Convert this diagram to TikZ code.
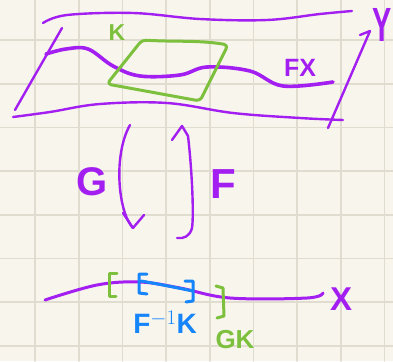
\documentclass[tikz,border=0pt]{standalone}
\usepackage{fontspec}
\setmainfont{Liberation Sans}
\definecolor{bg}{RGB}{248,246,236}
\definecolor{gridc}{RGB}{224,221,208}
\definecolor{purp}{RGB}{163,30,240}
\definecolor{grn}{RGB}{125,192,62}
\definecolor{blu}{RGB}{22,132,250}
\begin{document}
\begin{tikzpicture}[x=1pt,y=-1pt,line cap=round,line join=round,
  pen/.style={draw=purp,line width=2.4pt},
  thick pen/.style={draw=purp,line width=3.6pt},
  gpen/.style={draw=grn,line width=3pt},
  bpen/.style={draw=blu,line width=3pt},
  lbl/.style={inner sep=0pt,font=\fontsize{#1}{#1}\selectfont\bfseries},
  gridline/.style={draw=gridc,line width=1.6pt}]
\useasboundingbox (0,0) rectangle (393,361);
\fill[bg] (0,0) rectangle (393,361);
\foreach \i in {0,...,8} \draw[gridline] ({35+43.7*\i},0) -- ({35+43.7*\i},361);
\foreach \j in {0,...,7} \draw[gridline] (0,{40+43.7*\j}) -- (393,{40+43.7*\j});

% top sheet Y
\draw[pen] plot[smooth,tension=0.6] coordinates {(43,23) (67,15) (133,13) (200,19) (267,20) (320,14) (352,11)};
\draw[pen] plot[smooth,tension=0.6] coordinates {(13,117) (50,112) (100,104) (167,103) (233,113) (300,118) (343,120)};
\coordinate (ltop) at (62,28);
\coordinate (lbot) at (15,110);
\draw[pen] (ltop) -- (lbot);
\coordinate (rbot) at (328,128);
\coordinate (rtop) at (370,31);
\coordinate (rtick) at (360,35);
\draw[pen] (rbot) -- (rtop) -- (rtick);
\node[lbl=48,text=purp] (Y) at (382,25) {\scalebox{0.6}[1]{Y}};

% FX curve
\draw[thick pen] plot[smooth,tension=0.6] coordinates {(46,54) (66,49) (88,49) (113,66) (140,76) (180,75) (207,67) (250,71) (283,86) (333,82)};
\node[lbl=25,text=purp] (FX) at (300,68) {FX};

% K
\draw[gpen,rounded corners=4pt] (142,40) .. controls (175,42) and (200,40) .. (228,45) -- (200,101) -- (107,84) -- cycle;
\node[lbl=23,text=grn] (K) at (117,33) {K};

% G arrow
\coordinate (gtop) at (130,125);
\coordinate (gbot) at (133,228);
\coordinate (gl) at (123,213);
\coordinate (gr) at (144,215);
\draw[pen] (gtop) .. controls (113,155) and (118,212) .. (gbot);
\draw[pen] (gl) -- (gbot);
\draw[pen] (gr) -- (gbot);
\node[lbl=40,text=purp] (G) at (92,182) {G};

% F arrow
\coordinate (ftop) at (182,126);
\coordinate (fbot) at (177,238);
\draw[pen] (172,140) -- (ftop) -- (188,136) .. controls (192,170) and (194,215) .. (192,228) .. controls (190,236) and (184,239) .. (fbot);
\node[lbl=42,text=purp] (F) at (223,184) {F};

% X line
\draw[thick pen,line width=3pt] plot[smooth,tension=0.6] coordinates {(45,300) (97,285) (140,282) (180,288) (230,298) (307,298) (323,293)};
\node[lbl=33,text=purp] (X) at (341,299) {X};
\draw[bpen] plot[smooth,tension=0.6] coordinates {(141,281) (163,285) (193,291)};

% brackets
\draw[gpen] (117,273) -- (109,273) -- (109,296) -- (116,296);
\draw[gpen] (216,286) -- (223,288) -- (224,316) -- (217,318);
\draw[bpen] (147,274) -- (139,274) -- (139,293) -- (147,294);
\draw[bpen] (185,281) -- (193,281) -- (193,301) -- (186,302);
\node[lbl=28,text=blu] (FinvK) at (165,322) {F$^{-1}$K};
\node[lbl=26,text=grn] (GK) at (235,340) {GK};
\end{tikzpicture}
\end{document}
